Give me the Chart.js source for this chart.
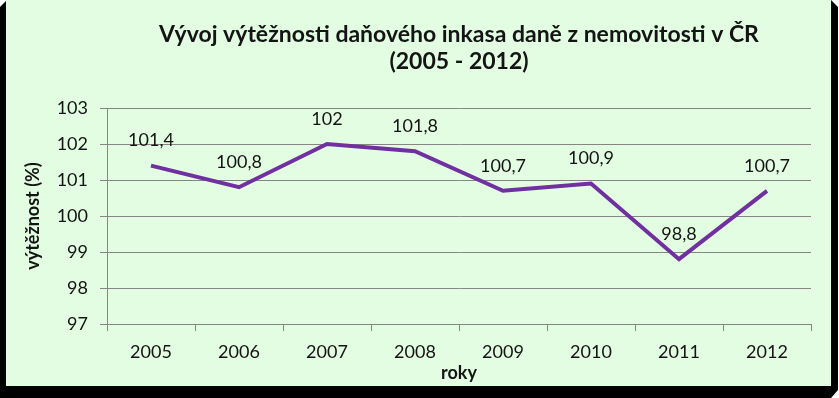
<!DOCTYPE html>
<html>
<head>
<meta charset="utf-8">
<script src="https://cdn.jsdelivr.net/npm/chart.js@4"></script>
<style>
  html, body { margin: 0; padding: 0; background: #ffffff; }
  #wrap { width: 839px; height: 398px; position: relative; }
</style>
</head>
<body>
<div id="wrap"><canvas id="c" width="839" height="398"></canvas></div>
<script>
const categories = ['2005', '2006', '2007', '2008', '2009', '2010', '2011', '2012'];
const yieldValues = [101.4, 100.8, 102, 101.8, 100.7, 100.9, 98.8, 100.7];
const valueLabels = ['101,4', '100,8', '102', '101,8', '100,7', '100,9', '98,8', '100,7'];
const yTicks = [97, 98, 99, 100, 101, 102, 103];
const titleLines = ['Vývoj výtěžnosti daňového inkasa daně z nemovitosti v ČR', '(2005 - 2012)'];
const xTitle = 'roky';
const yTitle = 'výtěžnost (%)';

const FONT = 'Lato, "Open Sans", sans-serif';

const framePlugin = {
  id: 'frame',
  beforeDraw(chart) {
    const ctx = chart.ctx;
    ctx.save();
    ctx.fillStyle = '#ffffff';
    ctx.fillRect(0, 0, 839, 398);
    ctx.fillStyle = '#000000';
    ctx.beginPath();
    ctx.moveTo(0, 7);
    ctx.lineTo(6, 1);
    ctx.lineTo(831, 0);
    ctx.lineTo(838, 7);
    ctx.lineTo(838, 390);
    ctx.lineTo(831, 398);
    ctx.lineTo(0, 398);
    ctx.closePath();
    ctx.fill();
    ctx.fillStyle = '#e3fde3';
    ctx.fillRect(6, 0, 825, 386);
    ctx.restore();
  }
};

const labelPlugin = {
  id: 'pointLabels',
  afterDatasetsDraw(chart) {
    const ctx = chart.ctx;
    const meta = chart.getDatasetMeta(0);
    ctx.save();
    ctx.font = '18px ' + FONT;
    ctx.fillStyle = '#141414';
    ctx.textAlign = 'center';
    ctx.textBaseline = 'middle';
    meta.data.forEach((pt, i) => {
      ctx.fillText(valueLabels[i], pt.x, pt.y - 25);
    });
    ctx.restore();
  }
};

new Chart(document.getElementById('c'), {
  type: 'line',
  data: {
    labels: categories,
    datasets: [{
      data: yieldValues,
      borderColor: '#7030a0',
      borderWidth: 4,
      pointRadius: 0,
      tension: 0,
      fill: false
    }]
  },
  options: {
    responsive: false,
    animation: false,
    devicePixelRatio: 1,
    layout: { padding: { left: 6, right: 28, top: 0, bottom: 11 } },
    plugins: {
      legend: { display: false },
      tooltip: { enabled: false },
      title: {
        display: true,
        fullSize: false,
        text: titleLines,
        color: '#141414',
        font: { family: FONT, size: 23, weight: 'bold', lineHeight: 27 / 23 },
        padding: { top: 21.5, bottom: 32.5 }
      }
    },
    scales: {
      x: {
        type: 'category',
        offset: true,
        afterFit(scale) { scale.height = 63; },
        grid: {
          offset: true,
          drawOnChartArea: false,
          drawTicks: true,
          tickLength: 7,
          color: '#868686',
          tickColor: '#868686'
        },
        border: { display: true, color: '#868686', width: 1 },
        ticks: {
          color: '#141414',
          font: { family: FONT, size: 18 },
          padding: 10,
          maxRotation: 0
        },
        title: {
          display: true,
          text: xTitle,
          color: '#141414',
          font: { family: FONT, size: 18, weight: 'bold' },
          padding: { top: 0, bottom: 3 }
        }
      },
      y: {
        min: 97,
        max: 103,
        afterFit(scale) { scale.width = 101; },
        afterBuildTicks(scale) { scale.ticks = yTicks.map(v => ({ value: v })); },
        grid: {
          color: '#868686',
          tickColor: '#868686',
          drawTicks: true,
          tickLength: 7
        },
        border: { display: true, color: '#868686', width: 1 },
        ticks: {
          color: '#141414',
          font: { family: FONT, size: 18 },
          padding: 12,
          callback: (v) => String(v)
        },
        title: {
          display: true,
          text: yTitle,
          color: '#141414',
          font: { family: FONT, size: 18, weight: 'bold' },
          padding: { top: 16, bottom: 0 }
        }
      }
    }
  },
  plugins: [framePlugin, labelPlugin]
});
</script>
</body>
</html>
